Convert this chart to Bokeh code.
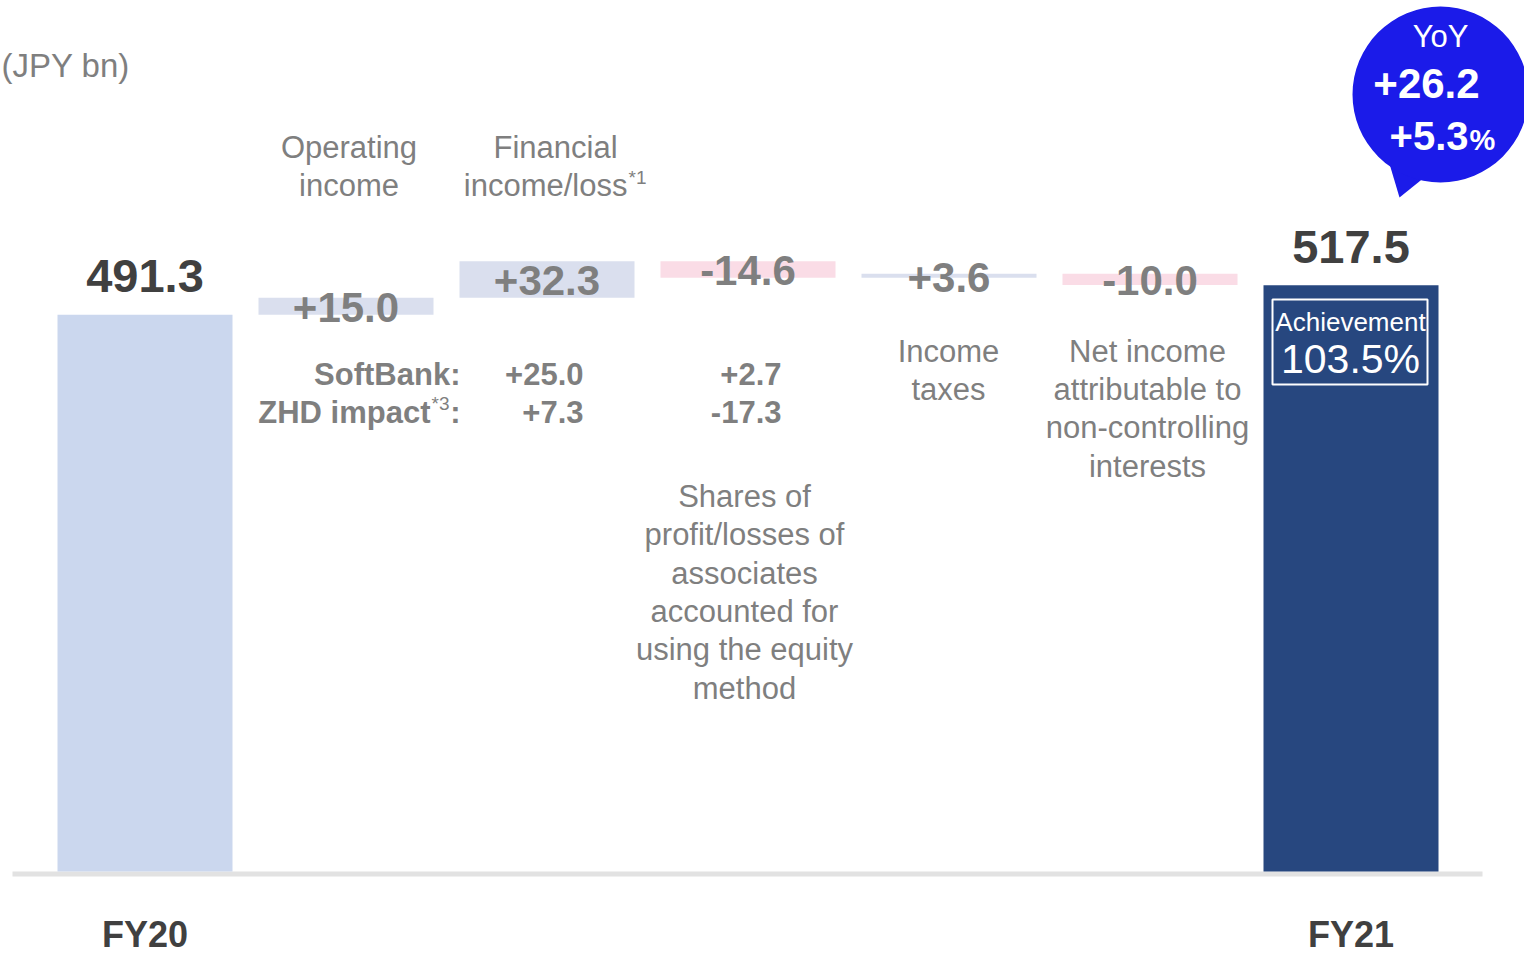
import numpy as np
from bokeh.plotting import figure
from bokeh.models import Range1d
from bokeh.core.properties import value
from bokeh.embed import file_html
from bokeh.resources import INLINE

# ---------------- data ----------------
categories = ["FY20", "Operating income", "Financial income/loss",
              "Shares of profit/losses of associates", "Income taxes",
              "Net income attributable to non-controlling interests", "FY21"]
start_total = 491.3
end_total = 517.5
deltas = [15.0, 32.3, -14.6, 3.6, -10.0]
delta_labels = ["+15.0", "+32.3", "-14.6", "+3.6", "-10.0"]
total_labels = ["491.3", "517.5"]
period_labels = ["FY20", "FY21"]
softbank_impact = ["+25.0", "+2.7"]
zhd_impact = ["+7.3", "-17.3"]
yoy_abs = "+26.2"
yoy_pct = "+5.3"
achievement = "103.5%"
unit_label = "(JPY bn)"

# ---------------- layout helpers ----------------
W, H = 1524, 955
X0, STEP = 144.5, 201.0     # pixel centre of category 0, spacing
Y0, K = 871.0, 1.133        # pixel of value 0, px per unit
BAR_W = 175.0 / STEP
FONT = value("Liberation Sans")
GRAY = "#7f7f7f"
DARK = "#404040"
BASE_SHIFT = 0.36           # correction so that y means the text baseline


def dx(px):
    return (px - X0) / STEP


def dy(py):
    return (Y0 - py) / K


p = figure(width=W, height=H,
           x_range=Range1d(dx(0), dx(W)),
           y_range=Range1d(dy(H), dy(0)),
           output_backend="svg", toolbar_location=None,
           x_axis_type=None, y_axis_type=None, min_border=0,
           outline_line_color=None, background_fill_color="white",
           border_fill_color="white")
p.grid.visible = False


def txt(xs, ys, texts, size, color, bold=False, align="center"):
    ys = [y + BASE_SHIFT * size / K for y in ys]
    p.text(x=xs, y=ys, text=texts, text_font=FONT,
           text_font_size=value(f"{size}px"),
           text_font_style="bold" if bold else "normal",
           text_color=color, text_align=align, text_baseline="alphabetic")


def ptxt(xs_px, ys_px, texts, size, color, bold=False, align="center"):
    txt([dx(x) for x in xs_px], [dy(y) for y in ys_px], texts, size, color, bold, align)


# ---------------- baseline ----------------
p.quad(left=[dx(12)], right=[dx(1482)], top=[dy(871)], bottom=[dy(876)],
       fill_color="#e2e2e2", line_color=None)

# ---------------- waterfall bars ----------------
n = len(categories)
idx = np.arange(n)
cum = start_total + np.cumsum(deltas)
prev = np.concatenate([[start_total], cum[:-1]])
bottoms = [0.0] + list(np.minimum(prev, cum)) + [0.0]
tops = [start_total] + list(np.maximum(prev, cum)) + [end_total]
colors = ["#cbd7ee"] + ["#dadfee" if d > 0 else "#fadce6" for d in deltas] + ["#27477f"]
p.quad(left=idx - BAR_W / 2, right=idx + BAR_W / 2, top=tops, bottom=bottoms,
       fill_color=colors, line_color=None)

# value labels
mids = [(b + t) / 2 for b, t in zip(bottoms[1:-1], tops[1:-1])]
txt(list(idx[1:-1]), [m - 16.5 / K for m in mids], delta_labels, 42, GRAY, bold=True)
txt([0, n - 1], [start_total + 21.5 / K, end_total + 21.5 / K], total_labels, 47, DARK, bold=True)

# period labels
ptxt([144.5, 1350.5], [947, 947], period_labels, 36, DARK, bold=True)

# unit label
ptxt([1], [77], [unit_label], 33, GRAY, align="left")

# category labels
ptxt([348.5, 348.5], [158, 196], ["Operating", "income"], 31, GRAY)
ptxt([555], [158], ["Financial"], 31, GRAY)
ptxt([627], [196], ["income/loss"], 31, GRAY, align="right")
ptxt([628], [184], ["*1"], 19, GRAY, align="left")
ptxt([948, 948], [362, 400], ["Income", "taxes"], 31, GRAY)
ptxt([1147] * 4, [362, 400, 438.5, 477],
     ["Net income", "attributable to", "non-controlling", "interests"], 31, GRAY)
ptxt([744] * 6, [507, 545.4, 583.8, 622.2, 660.6, 699],
     ["Shares of", "profit/losses of", "associates", "accounted for",
      "using the equity", "method"], 31, GRAY)

# SoftBank / ZHD breakdown
ptxt([460], [385], ["SoftBank:"], 31, GRAY, bold=True, align="right")
ptxt([430], [423], ["ZHD impact"], 31, GRAY, bold=True, align="right")
ptxt([431], [410], ["*3"], 19, GRAY, align="left")
ptxt([460], [423], [":"], 31, GRAY, bold=True, align="right")
ptxt([583, 781], [385, 385], softbank_impact, 31, GRAY, bold=True, align="right")
ptxt([583, 781], [423, 423], zhd_impact, 31, GRAY, bold=True, align="right")

# ---------------- YoY bubble ----------------
BUBBLE = "#1b1be9"
p.patch(x=[dx(1388), dx(1399), dx(1430)], y=[dy(160), dy(197), dy(172)],
        fill_color=BUBBLE, line_color=None)
p.scatter(x=[dx(1440)], y=[dy(94)], size=176, marker="circle",
          fill_color=BUBBLE, line_color=None)
ptxt([1440], [47], ["YoY"], 31, "white")
ptxt([1426], [98], [yoy_abs], 42, "white", bold=True)
ptxt([1468], [150], [yoy_pct], 40, "white", bold=True, align="right")
ptxt([1469], [150], ["%"], 29, "white", bold=True, align="left")

# ---------------- achievement box ----------------
p.quad(left=[dx(1272)], right=[dx(1427)], top=[dy(299)], bottom=[dy(384)],
       fill_color=None, line_color="white", line_width=2)
ptxt([1350], [331], ["Achievement"], 26, "white")
ptxt([1350], [373], [achievement], 41, "white")

open("out.html", "w").write(file_html(p, INLINE))
